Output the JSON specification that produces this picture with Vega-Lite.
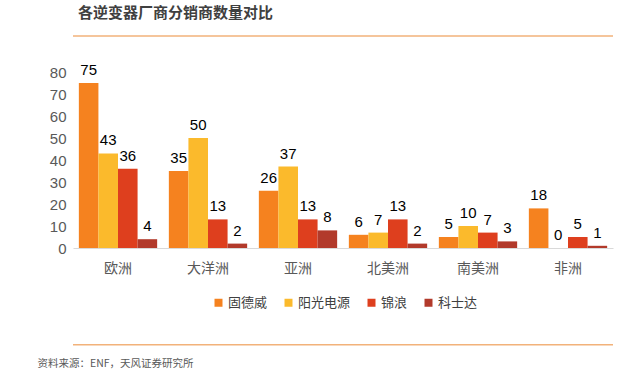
{
  "$schema": "https://vega.github.io/schema/vega-lite/v6.json",
  "autosize": "none",
  "width": 540,
  "height": 176,
  "padding": {"left": 73, "top": 72, "right": 27, "bottom": 127},
  "background": "white",
  "config": {
    "view": {"stroke": null},
    "font": "Liberation Sans, Noto Sans CJK SC, sans-serif"
  },
  "title": {
    "text": "各逆变器厂商分销商数量对比",
    "anchor": "start",
    "frame": "group",
    "dx": 5,
    "offset": 14,
    "fontSize": 15,
    "fontWeight": "bold",
    "color": "#404040",
    "font": "Noto Sans CJK SC"
  },
  "data": {
    "values": [
      {"region": "欧洲", "brand": "固德威", "value": 75},
      {"region": "欧洲", "brand": "阳光电源", "value": 43},
      {"region": "欧洲", "brand": "锦浪", "value": 36},
      {"region": "欧洲", "brand": "科士达", "value": 4},
      {"region": "大洋洲", "brand": "固德威", "value": 35},
      {"region": "大洋洲", "brand": "阳光电源", "value": 50},
      {"region": "大洋洲", "brand": "锦浪", "value": 13},
      {"region": "大洋洲", "brand": "科士达", "value": 2},
      {"region": "亚洲", "brand": "固德威", "value": 26},
      {"region": "亚洲", "brand": "阳光电源", "value": 37},
      {"region": "亚洲", "brand": "锦浪", "value": 13},
      {"region": "亚洲", "brand": "科士达", "value": 8},
      {"region": "北美洲", "brand": "固德威", "value": 6},
      {"region": "北美洲", "brand": "阳光电源", "value": 7},
      {"region": "北美洲", "brand": "锦浪", "value": 13},
      {"region": "北美洲", "brand": "科士达", "value": 2},
      {"region": "南美洲", "brand": "固德威", "value": 5},
      {"region": "南美洲", "brand": "阳光电源", "value": 10},
      {"region": "南美洲", "brand": "锦浪", "value": 7},
      {"region": "南美洲", "brand": "科士达", "value": 3},
      {"region": "非洲", "brand": "固德威", "value": 18},
      {"region": "非洲", "brand": "阳光电源", "value": 0},
      {"region": "非洲", "brand": "锦浪", "value": 5},
      {"region": "非洲", "brand": "科士达", "value": 1}
    ]
  },
  "encoding": {
    "x": {
      "field": "region",
      "type": "nominal",
      "sort": ["欧洲", "大洋洲", "亚洲", "北美洲", "南美洲", "非洲"],
      "scale": {"paddingInner": 0.13, "paddingOuter": 0.065},
      "axis": {
        "title": "资料来源：ENF，天风证券研究所",
        "titleX": -36,
        "titleY": 115,
        "titleAlign": "left",
        "titleBaseline": "middle",
        "titleFont": "Noto Sans CJK SC",
        "titleFontSize": 10.5,
        "titleFontWeight": "normal",
        "titleColor": "#595959",
        "labelAngle": 0,
        "labelFont": "Noto Sans CJK SC",
        "labelFontSize": 14,
        "labelColor": "#595959",
        "labelPadding": 13,
        "ticks": false,
        "domainColor": "#D9D9D9",
        "grid": false
      }
    },
    "xOffset": {
      "field": "brand",
      "type": "nominal",
      "sort": ["固德威", "阳光电源", "锦浪", "科士达"],
      "scale": {"paddingInner": 0, "paddingOuter": 0}
    },
    "y": {
      "field": "value",
      "type": "quantitative",
      "scale": {"domain": [0, 80], "nice": false},
      "axis": {
        "title": null,
        "values": [0, 10, 20, 30, 40, 50, 60, 70, 80],
        "labelFontSize": 15,
        "labelColor": "#595959",
        "labelPadding": 7,
        "ticks": false,
        "domain": false,
        "grid": false
      }
    }
  },
  "layer": [
    {
      "mark": {"type": "bar", "clip": false},
      "encoding": {
        "color": {
          "field": "brand",
          "type": "nominal",
          "sort": ["固德威", "阳光电源", "锦浪", "科士达"],
          "scale": {
            "domain": ["固德威", "阳光电源", "锦浪", "科士达"],
            "range": ["#F5821F", "#FBBA2C", "#DE3F1E", "#B23A2B"]
          },
          "legend": {
            "title": null,
            "orient": "none",
            "direction": "horizontal",
            "legendX": 139,
            "legendY": 224,
            "symbolType": "square",
            "symbolSize": 64,
            "symbolStrokeWidth": 0,
            "labelFont": "Noto Sans CJK SC",
            "labelFontSize": 13,
            "labelColor": "#404040",
            "labelOffset": 3,
            "columnPadding": 14
          }
        }
      }
    },
    {
      "mark": {"type": "text", "baseline": "bottom", "dy": -5, "fontSize": 15, "color": "#000000"},
      "encoding": {
        "text": {"field": "value", "type": "quantitative"}
      }
    },
    {
      "data": {"values": [{"pos": 96.4}, {"pos": -44}]},
      "mark": {"type": "rule", "color": "#F2B27A", "strokeWidth": 1.5, "clip": false},
      "encoding": {
        "x": null,
        "xOffset": null,
        "y": {"field": "pos", "type": "quantitative"}
      }
    }
  ]
}
